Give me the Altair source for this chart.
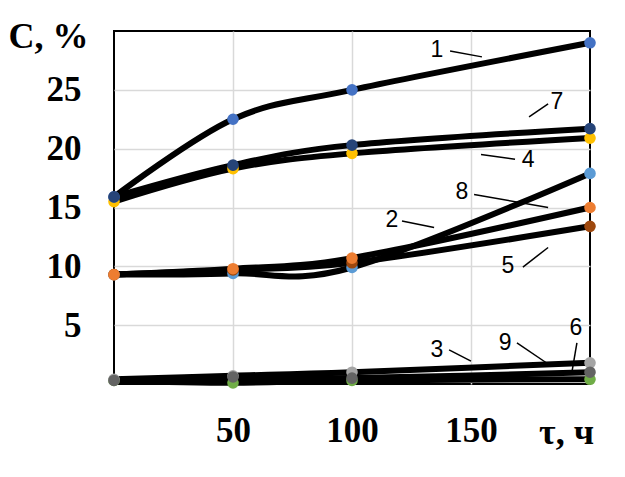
import altair as alt
import pandas as pd

# ---- data ----
times = [0, 50, 100, 200]
series_names = ["4", "1", "7", "2", "5", "8", "3", "9", "6"]
s1 = [15.9, 22.5, 25.0, 29.0]
s7 = [15.9, 18.6, 20.3, 21.7]
s4 = [15.5, 18.3, 19.6, 20.9]
s2 = [9.3, 9.4, 9.9, 17.9]
s8 = [9.3, 9.8, 10.7, 15.0]
s5 = [9.3, 9.7, 10.3, 13.4]
s9 = [0.4, 0.7, 1.0, 1.8]
s6 = [0.3, 0.6, 0.5, 1.0]
s3 = [0.3, 0.1, 0.3, 0.4]
series_values = {"1": s1, "7": s7, "4": s4, "2": s2, "8": s8, "5": s5,
                 "9": s9, "6": s6, "3": s3}
series_colors = ["#FFC000", "#4472C4", "#264478", "#5B9BD5", "#9E480E",
                 "#ED7D31", "#70AD47", "#A5A5A5", "#636363"]

x_ticks = [50, 100, 150]
y_ticks = [5, 10, 15, 20, 25]

# annotation labels (data units) and their leader lines
ann_text = ["1", "7", "4", "8", "2", "5", "3", "9", "6"]
ann_t = [135.7, 186.1, 174.0, 146.2, 116.8, 165.5, 135.7, 164.3, 194.1]
ann_c = [28.4, 24.0, 19.0, 16.3, 13.9, 10.0, 2.9, 3.5, 4.8]
lead_t1 = [141.2, 182.4, 168.5, 151.3, 121.0, 171.8, 140.8, 169.3, 194.5]
lead_c1 = [28.3, 23.8, 19.1, 16.1, 13.85, 9.94, 2.9, 3.5, 3.5]
lead_t2 = [154.6, 174.4, 154.2, 182.4, 134.5, 182.4, 150.0, 182.4, 192.4]
lead_c2 = [27.8, 22.7, 19.5, 15.0, 13.3, 11.6, 1.95, 1.7, 1.0]

rows = []
for k, name in enumerate(series_names):
    for t, v in zip(times, series_values[name]):
        rows.append({"s": name, "t": t, "c": v, "k": k})
df = pd.DataFrame(rows)

ann = pd.DataFrame({"label": ann_text, "t": ann_t, "c": ann_c})
leads = pd.DataFrame({"t": lead_t1, "c": lead_c1, "t2": lead_t2, "c2": lead_c2})

serif = "Liberation Serif"

xscale = alt.Scale(domain=[0, 200], nice=False, zero=False)
yscale = alt.Scale(domain=[0, 30], nice=False, zero=False)

xaxis = alt.Axis(values=x_ticks, title="τ, ч", grid=True, domain=False,
                 ticks=False, tickSize=0, labelPadding=29,
                 labelFont=serif, labelFontWeight="bold", labelFontSize=35,
                 labelColor="black",
                 titleFont=serif, titleFontWeight="bold", titleFontSize=36,
                 titleColor="black", titleX=452, titleY=59,
                 titleAlign="center", titleBaseline="alphabetic",
                 gridColor="#D9D9D9", gridWidth=1.5)
yaxis = alt.Axis(values=y_ticks, title="C, %", grid=True, domain=False,
                 ticks=False, tickSize=0, labelPadding=33,
                 labelFont=serif, labelFontWeight="bold", labelFontSize=35,
                 labelColor="black",
                 titleFont=serif, titleFontWeight="bold", titleFontSize=36,
                 titleColor="black", titleAngle=0, titleX=-106, titleY=16,
                 titleAlign="left", titleBaseline="alphabetic",
                 gridColor="#D9D9D9", gridWidth=1.5)

lines = alt.Chart(df).mark_line(interpolate="cardinal", color="black",
                                strokeWidth=6).encode(
    x=alt.X("t:Q", scale=xscale, axis=xaxis),
    y=alt.Y("c:Q", scale=yscale, axis=yaxis),
    detail="s:N",
)

points = alt.Chart(df).mark_circle(size=135, opacity=1).encode(
    x=alt.X("t:Q", scale=xscale),
    y=alt.Y("c:Q", scale=yscale),
    color=alt.Color("s:N", scale=alt.Scale(domain=series_names, range=series_colors),
                    legend=None),
    order=alt.Order("k:Q"),
)

leaders = alt.Chart(leads).mark_rule(color="black", strokeWidth=1.5).encode(
    x=alt.X("t:Q", scale=xscale), x2="t2:Q",
    y=alt.Y("c:Q", scale=yscale), y2="c2:Q",
)

labels = alt.Chart(ann).mark_text(font="Liberation Sans", fontSize=23,
                                  color="black", align="center",
                                  baseline="middle").encode(
    x=alt.X("t:Q", scale=xscale),
    y=alt.Y("c:Q", scale=yscale),
    text="label:N",
)

chart = alt.layer(lines, points, leaders, labels).properties(
    width=476, height=353,
    autosize=alt.AutoSizeParams(type="none"),
    padding={"left": 106, "top": 23, "right": 27, "bottom": 70},
).configure_view(stroke="black", strokeWidth=2)

chart.save("out.html", embed_options={"renderer": "svg", "actions": False})
